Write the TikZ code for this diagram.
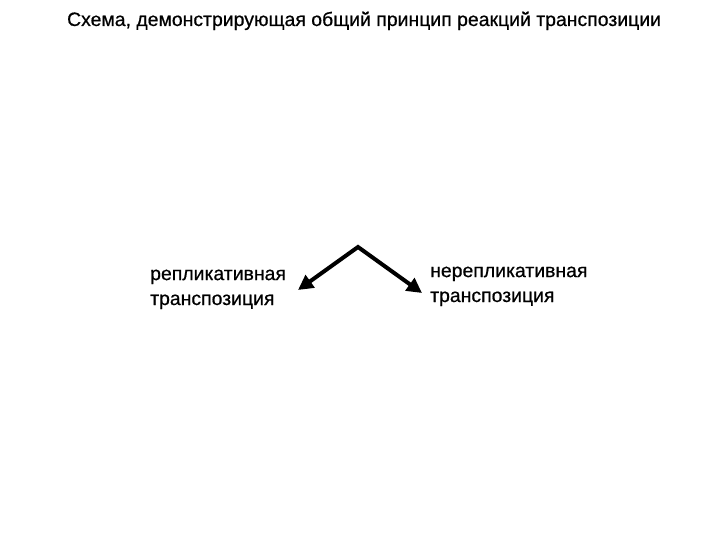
\documentclass[tikz,border=0pt]{standalone}
\usepackage{fontspec}
\setmainfont{Liberation Sans}
\newfontfamily\heavyfont[FakeBold=0.6]{Liberation Sans}
\usetikzlibrary{arrows.meta}
\begin{document}
\begin{tikzpicture}[x=1bp,y=-1bp,
  lbl/.style={font=\heavyfont\fontsize{19.5}{25}\selectfont, align=left, inner sep=0pt, anchor=base west},
  arr/.style={line width=4bp, line join=miter, {Triangle[length=15bp,width=15bp]}-{Triangle[length=15bp,width=15bp]}}]
\useasboundingbox (0,0) rectangle (720,540);
\node[font=\heavyfont\fontsize{19.5}{24}\selectfont, inner sep=0pt, anchor=base] (title) at (364,26) {Схема, демонстрирующая общий принцип реакций транспозиции};
\coordinate (apex) at (358,247);
\node[lbl] (left) at (150,305) {репликативная\\транспозиция};
\node[lbl] (right) at (430,302) {нерепликативная\\транспозиция};
\coordinate (lend) at (298,290);
\coordinate (rend) at (422,293);
\draw[arr] (lend) -- (apex) -- (rend);
\end{tikzpicture}
\end{document}
